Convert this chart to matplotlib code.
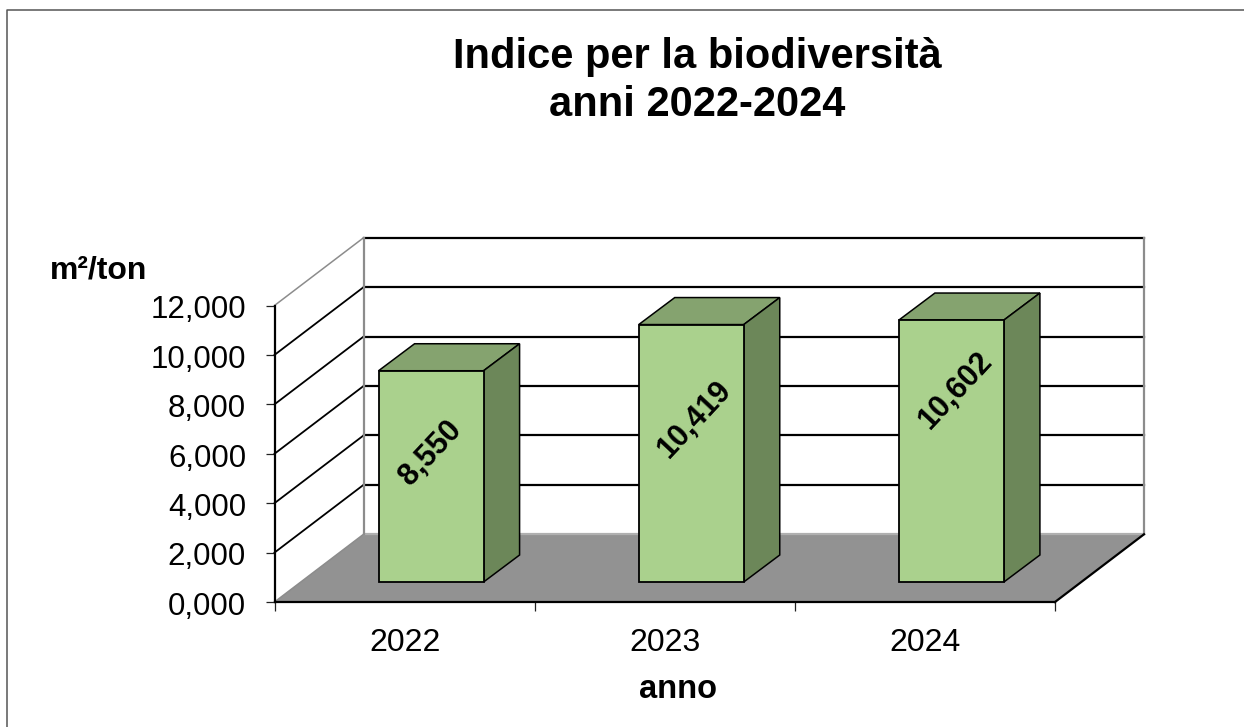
import matplotlib
matplotlib.use("Agg")
import matplotlib.pyplot as plt
from matplotlib.patches import Polygon
from matplotlib.lines import Line2D
from matplotlib.transforms import ScaledTranslation

plt.rcParams['font.family'] = ['Liberation Sans', 'DejaVu Sans']

years = ["2022", "2023", "2024"]
values = [8550, 10419, 10602]
value_labels = ["8,550", "10,419", "10,602"]
y_ticks = [0, 2000, 4000, 6000, 8000, 10000, 12000]
y_tick_labels = ["0,000", "2,000", "4,000", "6,000", "8,000", "10,000", "12,000"]
label_heights = [6030, 7366, 8540]

W, H = 1244, 727
fig = plt.figure(figsize=(W / 100, H / 100), dpi=100, facecolor="white")
ax = fig.add_axes([274.5 / W, 1 - 602 / H, 780.5 / W, 296.5 / H])
ax.set_xlim(0, 3)
ax.set_ylim(0, 12000)
ax.patch.set_visible(False)

PXX = 3 / 780.5
PXY = 12000 / 296.5
WALL_X, WALL_Y = 89 * PXX, 67.7 * PXY      # depth of the chart box
OFF_X, OFF_Y = 26.5 * PXX, 20 * PXY        # bar offset from the front plane
BAR_DX, BAR_DY = 36 * PXX, 27 * PXY        # bar depth
BAR_W = 105 * PXX

LW1, LW2 = 1.1, 1.6
GREY = "#8c8c8c"
BLACK = "#000000"

# floor
ax.add_patch(Polygon([(0, 0), (WALL_X, WALL_Y), (3 + WALL_X, WALL_Y), (3, 0)],
                     closed=True, fc="#929292", ec="none", clip_on=False, zorder=1))
ax.plot([0, WALL_X], [0, WALL_Y], color=GREY, lw=LW1, clip_on=False, zorder=2)
ax.plot([WALL_X, 3 + WALL_X], [WALL_Y, WALL_Y], color="#b0b0b0", lw=LW2, clip_on=False, zorder=2)
ax.plot([3, 3 + WALL_X], [0, WALL_Y], color=BLACK, lw=LW2, clip_on=False, zorder=3)

# walls and gridlines
for t in y_ticks[1:]:
    c = GREY if t == 12000 else BLACK
    ax.plot([0, WALL_X], [t, t + WALL_Y], color=c, lw=LW1 if t == 12000 else LW1 + 0.2,
            clip_on=False, zorder=2)
    ax.plot([WALL_X, 3 + WALL_X], [t + WALL_Y, t + WALL_Y], color=BLACK, lw=LW2,
            clip_on=False, zorder=2)
for xw in (WALL_X, 3 + WALL_X):
    ax.plot([xw, xw], [WALL_Y, 12000 + WALL_Y], color=GREY, lw=LW2, clip_on=False, zorder=2)

# bars
centers = [i + 0.5 for i in range(len(years))]
for xc, v in zip(centers, values):
    x0 = xc - BAR_W / 2 + OFF_X
    x1 = x0 + BAR_W
    y0, y1 = OFF_Y, OFF_Y + v
    ax.add_patch(Polygon([(x0, y1), (x0 + BAR_DX, y1 + BAR_DY), (x1 + BAR_DX, y1 + BAR_DY), (x1, y1)],
                         closed=True, fc="#85A36F", ec=BLACK, lw=LW1, clip_on=False, zorder=4))
    ax.add_patch(Polygon([(x1, y0), (x1 + BAR_DX, y0 + BAR_DY), (x1 + BAR_DX, y1 + BAR_DY), (x1, y1)],
                         closed=True, fc="#6C8759", ec=BLACK, lw=LW1, clip_on=False, zorder=4))
    ax.bar(x0 + BAR_W / 2, v, BAR_W, bottom=OFF_Y, color="#AAD18D", edgecolor=BLACK,
           linewidth=LW1 + 0.2, clip_on=False, zorder=5)

label_shift = [0, 3 * PXX, 4 * PXX]
for xc, h, s, dx in zip(centers, label_heights, value_labels, label_shift):
    ax.text(xc + OFF_X + dx, h, s, rotation=47, ha="center", va="center", rotation_mode="anchor",
            fontsize=22, fontweight="bold", color="black", zorder=6)

# axes
for side in ("top", "right"):
    ax.spines[side].set_visible(False)
ax.spines["left"].set_linewidth(LW2)
ax.spines["bottom"].set_linewidth(LW2)
ax.spines["left"].set_zorder(3)
ax.spines["bottom"].set_zorder(3)
ax.set_yticks(y_ticks)
ax.set_yticklabels(y_tick_labels)
ax.tick_params(axis="y", length=6.5, width=0.9, pad=14, labelsize=22.5, color="#222222")
for lab in ax.get_yticklabels():
    lab.set_transform(lab.get_transform() + ScaledTranslation(0, -1.0 / 72, fig.dpi_scale_trans))
ax.set_xticks([0, 1, 2, 3])
ax.set_xticklabels([])
ax.tick_params(axis="x", which="major", length=6.5, width=0.9, color="#222222")
ax.set_xticks(centers, minor=True)
ax.set_xticklabels(years, minor=True)
ax.tick_params(axis="x", which="minor", length=0, pad=19, labelsize=23)

# text
fig.text(697.5 / W, 1 - 81 / H, "Indice per la biodiversità\nanni 2022-2024", ha="center", va="center",
         fontsize=30, fontweight="bold", linespacing=1.27)
fig.text(677.5 / W, 1 - 690 / H, "anno", ha="center", va="center", fontsize=23.5, fontweight="bold")
fig.text(98.5 / W, 1 - 271 / H, "m²/ton", ha="center", va="center", fontsize=23, fontweight="bold")

# chart area border (top and left edges)
fig.add_artist(Line2D([7.5 / W, 7.5 / W, 1], [0, 1 - 10 / H, 1 - 10 / H], color="#555555", lw=1.1))

fig.savefig("out.png", dpi=100, facecolor="white")
